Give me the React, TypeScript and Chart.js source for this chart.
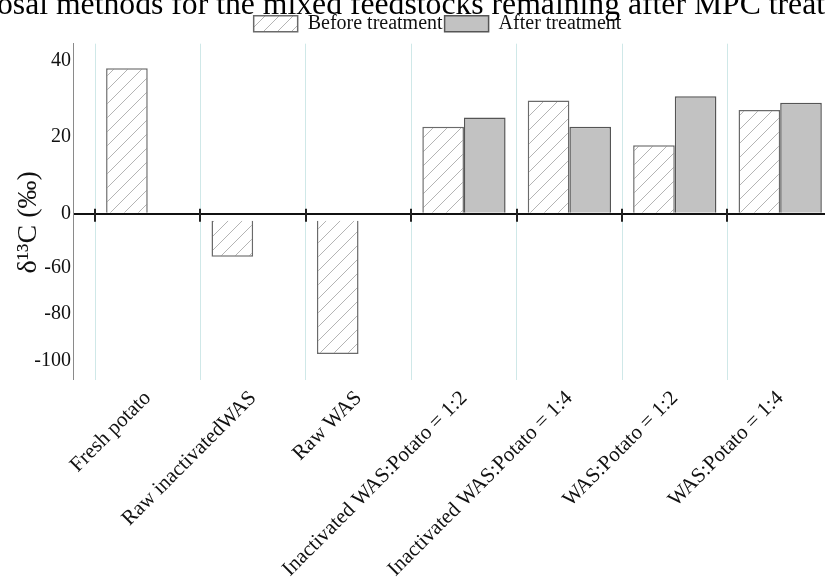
import React, { useEffect, useRef } from 'react';
import { Chart, registerables, LinearScale } from 'chart.js';

Chart.register(...registerables);

// ---------- data ----------
const TITLE = 'osal methods for the mixed feedstocks remaining after MPC treat';
const categories = [
  'Fresh potato',
  'Raw inactivatedWAS',
  'Raw WAS',
  'Inactivated WAS:Potato = 1:2',
  'Inactivated WAS:Potato = 1:4',
  'WAS:Potato = 1:2',
  'WAS:Potato = 1:4',
];
const seriesLabels = ['Before treatment', 'After treatment'];
const beforeTreatment = [38.0, -55.4, -97.1, 22.7, 29.6, 17.9, 27.1];
const afterTreatment: (number | null)[] = [null, null, null, 25.1, 22.7, 30.7, 29.0];
const yTickValues = [-100, -80, -60, 0, 20, 40];
const yAxisTitle = 'δ¹³C (‰)   ';

// ---------- broken y axis (0 .. -40 collapsed) ----------
const BREAK_LOW = -40;
const BREAK_GAP = 1.8;
const LOWER_RATIO = 0.61;
function fwd(v: number): number {
  if (v >= 0) return v;
  if (v >= BREAK_LOW) return (v / -BREAK_LOW) * BREAK_GAP;
  return -BREAK_GAP + (v - BREAK_LOW) * LOWER_RATIO;
}
function inv(u: number): number {
  if (u >= 0) return u;
  if (u >= -BREAK_GAP) return (u / BREAK_GAP) * -BREAK_LOW;
  return BREAK_LOW + (u + BREAK_GAP) / LOWER_RATIO;
}

class BrokenLinearScale extends LinearScale {
  static id = 'brokenLinear';
  static defaults = LinearScale.defaults;
  getPixelForValue(value: any) {
    if (value === null || value === undefined || isNaN(value)) return NaN;
    const a = fwd(this.min);
    const b = fwd(this.max);
    return this.getPixelForDecimal((fwd(value) - a) / (b - a));
  }
  getValueForPixel(pixel: number) {
    const a = fwd(this.min);
    const b = fwd(this.max);
    return inv(a + this.getDecimalForPixel(pixel) * (b - a));
  }
}
Chart.register(BrokenLinearScale as any);

// ---------- layout constants ----------
const CANVAS_W = 881;
const CANVAS_H = 700;
const OFFSET_TOP = -10;
const OFFSET_LEFT = -3;
const Y_AXIS_W = 76;
const X_AXIS_H = 310;
const X_MIN = -0.709;
const X_MAX = 6.928;
const Y_MIN = -108.2;
const Y_MAX = 44.4;
const FONT = '"Liberation Serif", "Times New Roman", serif';

function makeHatch(): CanvasPattern | string {
  const s = 14;
  const c = document.createElement('canvas');
  c.width = s;
  c.height = s;
  const g = c.getContext('2d');
  if (!g) return '#fff';
  g.fillStyle = '#ffffff';
  g.fillRect(0, 0, s, s);
  g.strokeStyle = '#b4b4b4';
  g.lineWidth = 1;
  g.beginPath();
  g.moveTo(0, s);
  g.lineTo(s, 0);
  g.moveTo(-s / 2, s / 2);
  g.lineTo(s / 2, -s / 2);
  g.moveTo(s / 2, s * 1.5);
  g.lineTo(s * 1.5, s / 2);
  g.stroke();
  const p = g.createPattern(c, 'repeat');
  return p || '#fff';
}

const boundaryTicks = {
  id: 'boundaryTicks',
  afterDatasetsDraw(chart: any) {
    const { ctx, chartArea } = chart;
    const x = chart.scales.x;
    const y = chart.scales.y;
    const y0 = y.getPixelForValue(0);
    ctx.save();
    ctx.strokeStyle = '#222';
    ctx.lineWidth = 2;
    for (let i = 0; i <= categories.length; i++) {
      const px = Math.round(x.getPixelForValue(i - 0.5));
      if (px < chartArea.left || px > chartArea.right) continue;
      ctx.beginPath();
      ctx.moveTo(px, y0 - 5);
      ctx.lineTo(px, y0 + 8);
      ctx.stroke();
    }
    ctx.restore();
  },
};

export default function App() {
  const ref = useRef<HTMLCanvasElement>(null);
  useEffect(() => {
    if (!ref.current) return;
    const hatch = makeHatch();
    const before = beforeTreatment.map((v, i) => ({ x: i, y: v < 0 ? [BREAK_LOW, v] : v }));
    const after = afterTreatment.map((v, i) => ({ x: i, y: v }));
    const chart = new Chart(ref.current, {
      type: 'bar',
      data: {
        datasets: [
          {
            label: seriesLabels[0],
            data: before as any,
            backgroundColor: hatch as any,
            borderColor: '#6a6a6a',
            borderWidth: 1.5,
            categoryPercentage: 0.79,
            barPercentage: 1,
          },
          {
            label: seriesLabels[1],
            data: after as any,
            backgroundColor: '#c2c2c2',
            borderColor: '#555555',
            borderWidth: 1.5,
            categoryPercentage: 0.79,
            barPercentage: 1,
          },
        ],
      },
      plugins: [boundaryTicks],
      options: {
        responsive: false,
        animation: false,
        devicePixelRatio: 1,
        layout: { padding: 0 },
        plugins: {
          title: {
            display: true,
            text: TITLE,
            align: 'start',
            color: '#000',
            font: { family: FONT, size: 31.7, weight: 'normal', lineHeight: 1.0 },
            padding: { top: 0, bottom: -10 },
          },
          legend: {
            display: true,
            position: 'top',
            labels: {
              boxWidth: 44,
              boxHeight: 16,
              padding: 2,
              color: '#111',
              font: { family: FONT, size: 20 },
            },
          },
          tooltip: { enabled: false },
        },
        scales: {
          x: {
            type: 'linear',
            offset: false,
            min: X_MIN,
            max: X_MAX,
            afterBuildTicks: (scale: any) => {
              scale.ticks = categories.map((_, i) => ({ value: i }));
            },
            afterFit: (scale: any) => {
              scale.height = X_AXIS_H;
            },
            grid: {
              offset: true,
              color: '#cfe8e8',
              lineWidth: 1,
              drawTicks: false,
            },
            border: { display: false },
            ticks: {
              autoSkip: false,
              minRotation: 45,
              maxRotation: 45,
              padding: 6,
              color: '#111',
              font: { family: FONT, size: 21 },
              callback: (v: any) => categories[v as number] ?? '',
            },
          },
          y: {
            type: 'brokenLinear' as any,
            min: Y_MIN,
            max: Y_MAX,
            z: 1,
            afterBuildTicks: (scale: any) => {
              scale.ticks = yTickValues.map((v) => ({ value: v }));
            },
            afterFit: (scale: any) => {
              scale.width = Y_AXIS_W;
            },
            grid: {
              drawTicks: false,
              color: (ctx: any) => (ctx.tick && ctx.tick.value === 0 ? '#111' : 'rgba(0,0,0,0)'),
              lineWidth: (ctx: any) => (ctx.tick && ctx.tick.value === 0 ? 2 : 0),
            },
            border: { display: true, color: '#8a8a8a', width: 1 },
            ticks: {
              padding: 2,
              color: '#111',
              font: { family: FONT, size: 20 },
              callback: (v: any) => String(v),
            },
            title: {
              display: true,
              text: yAxisTitle,
              color: '#111',
              font: { family: FONT, size: 28 },
              padding: { top: 15, bottom: 0 },
            },
          },
        },
      } as any,
    });
    return () => chart.destroy();
  }, []);

  return (
    <div
      style={{
        position: 'fixed',
        left: 0,
        top: 0,
        width: 825,
        height: 578,
        overflow: 'hidden',
        background: '#fff',
      }}
    >
      <div
        style={{
          position: 'absolute',
          left: OFFSET_LEFT,
          top: OFFSET_TOP,
          width: CANVAS_W,
          height: CANVAS_H,
        }}
      >
        <canvas ref={ref} width={CANVAS_W} height={CANVAS_H} style={{ width: CANVAS_W, height: CANVAS_H }} />
      </div>
    </div>
  );
}
